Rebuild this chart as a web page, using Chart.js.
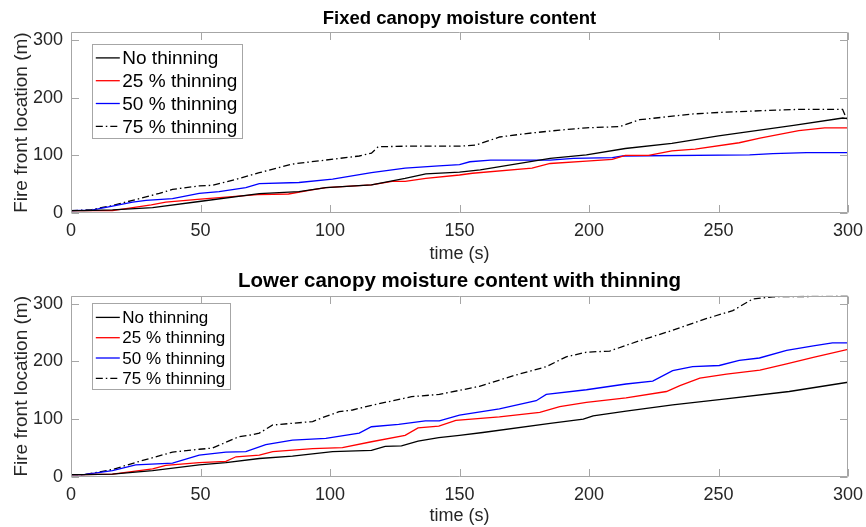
<html>
<head>
<script src="https://cdn.jsdelivr.net/npm/chart.js@4/dist/chart.umd.min.js"></script>
<style>
body { margin: 0; background: #fff; }
.box { position: absolute; left: 0; width: 866px; }
</style>
</head>
<body>
<div class="box" style="top:0px;height:270px"><canvas id="topChart" width="866" height="270"></canvas></div>
<div class="box" style="top:263px;height:264px"><canvas id="bottomChart" width="866" height="264"></canvas></div>
<script type="text/javascript">

// series labels and styles
const seriesNames = ["No thinning", "25 % thinning", "50 % thinning", "75 % thinning"];
const seriesColors = ["#000000", "#ff0000", "#0000ff", "#000000"];
const xTicks = [0, 50, 100, 150, 200, 250, 300];
const yTicks = [0, 100, 200, 300];

// top panel: fixed canopy moisture content
const fixNoT = [0, 5, 16, 31.5, 49.5, 72.7, 88, 98.4, 116, 129, 137, 150, 158, 185, 199, 214, 232, 250, 279, 298, 300];
const fixNoV = [4, 4, 5.6, 9.5, 20, 33.6, 37, 44, 48.7, 60, 68, 71, 75, 95, 101, 112, 121, 134, 152, 165, 164];
const fix25T = [0, 16, 31, 36.6, 50, 72, 84, 93, 98.4, 116, 124, 129, 137, 150, 155, 178, 185, 199, 209, 214, 223, 232, 241, 258, 266, 281, 291, 300];
const fix25V = [4, 4, 14, 19, 24, 32, 33, 40, 44, 48.7, 55, 55, 60, 66, 69, 78, 86, 90, 93, 100, 100, 108, 111, 122, 130, 143, 148, 148];
const fix50T = [0, 8, 16, 23.8, 29, 39.2, 49.5, 57.2, 67.5, 72.7, 88, 101, 116, 129, 142, 150, 154, 162, 185, 194, 209, 213, 262, 271, 284, 300];
const fix50V = [4, 5, 12, 19, 22, 25, 34, 37, 44, 51, 53, 59, 70, 78, 82, 84, 89, 92, 92, 95, 96, 99, 101, 103, 105, 105];
const fix75T = [0, 8, 16, 23.8, 34.1, 39.2, 49.5, 54.6, 65, 72.7, 85.5, 98.4, 111.3, 116, 118.6, 129, 150, 156.4, 165.5, 175.8, 188.7, 199, 211.9, 219.6, 229.9, 240.2, 251.8, 268.5, 281.2, 297.9, 300];
const fix75V = [4, 6, 13, 22, 34, 41, 47, 48, 60, 70, 85, 92, 99, 104, 115, 116, 116, 118, 132, 138, 144, 148, 150, 162, 167, 172, 175, 178, 180, 180, 158];

// bottom panel: lower canopy moisture content with thinning
const lowNoT = [0, 5, 16, 31.5, 49.5, 59.8, 72.7, 85.5, 101, 116, 121.3, 127.6, 134, 142, 150, 159, 185, 197.8, 201.6, 214.3, 232.3, 250.3, 277.3, 300];
const lowNoV = [4, 4, 5, 11, 21, 25, 32, 36, 44, 46, 53, 54, 62, 68, 72, 77, 93, 100, 106, 114, 125, 134, 148, 164];
const low25T = [0, 5, 16, 31.5, 36.6, 49.5, 59.8, 63.7, 72.7, 77.9, 93.3, 104.8, 116, 129, 134, 142, 148.6, 165.4, 181, 188.7, 199, 214.3, 229.9, 235.1, 242.8, 253.1, 266, 276.3, 286.6, 300];
const low25V = [4, 4, 5, 14, 20, 25, 27, 35, 38, 44, 49, 51, 61, 72, 85, 88, 98, 104, 112, 122, 129, 137, 148, 158, 171, 178, 185, 196, 207, 221];
const low50T = [0, 5, 16, 25, 39.2, 49.5, 59.8, 67.5, 75.2, 85.5, 98.4, 111.3, 116, 126.5, 136.8, 142.2, 150, 165.4, 179.6, 183.5, 199, 214.3, 224.6, 232.3, 240, 250.3, 258, 265.8, 276.3, 286.6, 294, 300];
const low50V = [4, 4, 11, 21, 24, 38, 43, 44, 56, 64, 67, 76, 87, 91, 97, 97, 107, 118, 132, 143, 151, 161, 166, 184, 191, 193, 202, 206, 219, 227, 232, 232];
const low75T = [0, 5, 16, 26.4, 39.2, 49.5, 54.6, 65, 70, 72.7, 77.9, 93.3, 98.4, 103.5, 108.7, 116, 131.5, 142.2, 150, 157.7, 170.6, 183.5, 191.2, 199, 208, 219.6, 232.3, 245.2, 255.5, 263.2, 271, 300];
const low75V = [4, 4, 13, 27, 43, 48, 50, 70, 73, 76, 90, 96, 105, 113, 116, 124, 139, 143, 150, 157, 175, 191, 208, 216, 218, 236, 254, 274, 288, 308, 312, 313];

const FONT = "'Liberation Sans', Arial, Helvetica, sans-serif";
const AXIS_GRAY = "#a6a6a6";
const TEXT = "#262626";

function pairs(t, v) {
	return t.map((x, i) => ({x: x, y: v[i]}));
}

function makeSets(list) {
	return list.map((s, i) => ({
		label: seriesNames[i],
		data: pairs(s[0], s[1]),
		borderColor: seriesColors[i],
		backgroundColor: seriesColors[i],
		borderWidth: 1.3,
		borderDash: i == 3 ? [7, 3, 1.5, 3] : [],
		pointRadius: 0,
		tension: 0,
		fill: false
	}));
}

// matlab style box with inward ticks
const framePlugin = {
	id: "frame",
	afterDatasetsDraw(chart) {
		const ctx = chart.ctx;
		const a = chart.chartArea;
		const xs = chart.scales.x, ys = chart.scales.y;
		const L = Math.round(a.left) + 0.5, R = Math.round(a.right) - 0.5;
		const T = Math.round(a.top) + 0.5, B = Math.round(a.bottom) - 0.5;
		ctx.save();
		ctx.strokeStyle = AXIS_GRAY;
		ctx.lineWidth = 1;
		ctx.beginPath();
		ctx.rect(L, T, R - L, B - T);
		xTicks.forEach(v => {
			const p = Math.round(xs.getPixelForValue(v)) + 0.5;
			ctx.moveTo(p, B); ctx.lineTo(p, B - 7.5);
			ctx.moveTo(p, T); ctx.lineTo(p, T + 7.5);
		});
		yTicks.forEach(v => {
			const p = Math.round(ys.getPixelForValue(v)) + 0.5;
			ctx.moveTo(L, p); ctx.lineTo(L + 7.5, p);
			ctx.moveTo(R, p); ctx.lineTo(R - 7.5, p);
		});
		ctx.stroke();
		ctx.restore();
	}
};

// legend box drawn inside the plot
const boxLegend = {
	id: "boxLegend",
	afterDraw(chart, args, opt) {
		const ctx = chart.ctx;
		const a = chart.chartArea;
		const x0 = a.left + opt.dx, y0 = a.top + opt.dy;
		ctx.save();
		ctx.fillStyle = "#fff";
		ctx.fillRect(x0, y0, opt.w, opt.h);
		ctx.strokeStyle = AXIS_GRAY;
		ctx.lineWidth = 1;
		ctx.strokeRect(Math.round(x0) + 0.5, Math.round(y0) + 0.5, opt.w, opt.h);
		ctx.font = opt.size + "px " + FONT;
		ctx.textBaseline = "middle";
		chart.data.datasets.forEach((d, i) => {
			const y = y0 + opt.first + i * opt.step;
			ctx.strokeStyle = d.borderColor;
			ctx.lineWidth = 1.3;
			ctx.setLineDash(d.borderDash);
			ctx.beginPath();
			ctx.moveTo(x0 + 3.5, y);
			ctx.lineTo(x0 + 27.5, y);
			ctx.stroke();
			ctx.setLineDash([]);
			ctx.fillStyle = "#000";
			ctx.fillText(d.label, x0 + 30, y + 1);
		});
		ctx.restore();
	}
};

function drawPanel(id, title, titleSize, titlePad, xHeight, xTitlePad, sets, legendOpt) {
	new Chart(id, {
		type: "line",
		data: { datasets: makeSets(sets) },
		plugins: [framePlugin, boxLegend],
		options: {
			responsive: false,
			animation: false,
			layout: { padding: { left: 0, right: 18, top: 0, bottom: 0 } },
			plugins: {
				legend: { display: false },
				tooltip: { enabled: false },
				title: {
					display: true,
					text: title,
					fullSize: false,
					color: "#000",
					font: { family: FONT, size: titleSize, weight: "bold" },
					padding: titlePad
				},
				boxLegend: legendOpt
			},
			scales: {
				x: {
					type: "linear",
					min: 0, max: 300,
					afterBuildTicks: s => { s.ticks = xTicks.map(v => ({value: v})); },
					afterFit: s => { s.height = xHeight; s.paddingLeft = 0; s.paddingRight = 0; },
					grid: { display: false, drawTicks: false },
					border: { display: false },
					ticks: { color: TEXT, padding: 7.5, maxRotation: 0, font: { family: FONT, size: 18 } },
					title: { display: true, text: "time (s)", color: TEXT, padding: { top: 0, bottom: xTitlePad }, font: { family: FONT, size: 18 } }
				},
				y: {
					min: 0, max: 314,
					afterBuildTicks: s => { s.ticks = yTicks.map(v => ({value: v})); },
					afterFit: s => { s.width = 71; s.paddingTop = 0; s.paddingBottom = 0; },
					grid: { display: false, drawTicks: false },
					border: { display: false },
					ticks: { color: TEXT, padding: 8, font: { family: FONT, size: 18 } },
					title: { display: true, text: "Fire front location (m)", color: TEXT, padding: { top: 10, bottom: 0 }, font: { family: FONT, size: 19 } }
				}
			}
		}
	});
}

drawPanel("topChart", "Fixed canopy moisture content", 18.5, { top: 8, bottom: 2 }, 57, 5,
	[[fixNoT, fixNoV], [fix25T, fix25V], [fix50T, fix50V], [fix75T, fix75V]],
	{ dx: 21.3, dy: 11.3, w: 150, h: 94, first: 14.4, step: 22.8, size: 19 });

drawPanel("bottomChart", "Lower canopy moisture content with thinning", 20.5, { top: 6, bottom: 2 }, 50, 0.5,
	[[lowNoT, lowNoV], [low25T, low25V], [low50T, low50V], [low75T, low75V]],
	{ dx: 21.3, dy: 7.8, w: 138, h: 86, first: 14, step: 20.3, size: 17 });
</script>
</body>
</html>
